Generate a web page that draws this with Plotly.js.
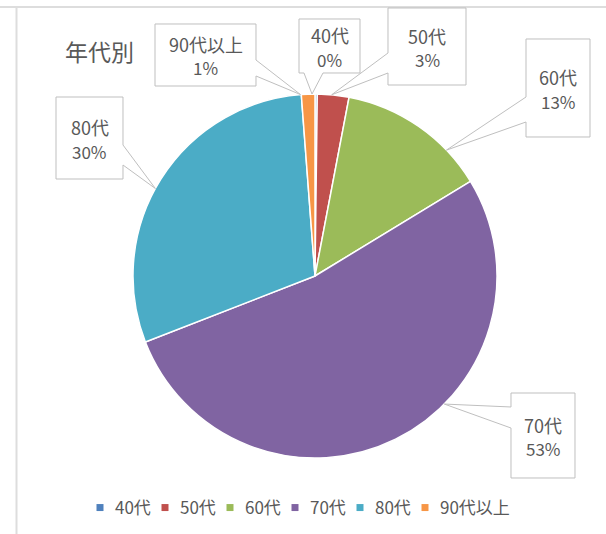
<!DOCTYPE html>
<html><head><meta charset="utf-8">
<script src="https://cdn.plot.ly/plotly-3.0.1.min.js"></script>
<style>html,body{margin:0;padding:0;background:#fff}</style>
</head><body><div id="chart" style="width:606px;height:534px"></div>
<script>
const categories = ["40代", "50代", "60代", "70代", "80代", "90代以上"];
const values = [0.2, 2.8, 13.3, 52.8, 29.7, 1.2];
const percentLabels = ["0%", "3%", "13%", "53%", "30%", "1%"];
const colors = ["#4F81BD", "#C0504D", "#9BBB59", "#8064A2", "#4BACC6", "#F79646"];

const W = 606, H = 534;
const cx = 315, cy = 276, R = 182;
const FONT = 'Noto Sans CJK JP, sans-serif';
// callout boxes (px): [x0,y0,x1,y1], side of pointer, pointer base, tip angle offset (deg)
const callouts = [
  {box: [299, 19, 360, 73], side: 'bottom', base: [304, 323], off: -1.3},
  {box: [388, 8, 466, 85], side: 'left', base: [53, 73], off: -0.5},
  {box: [526, 39, 590, 137], side: 'left', base: [97, 122], off: 11.5},
  {box: [511, 393, 575, 478], side: 'left', base: [407, 428], off: -19},
  {box: [56, 97, 123, 179], side: 'right', base: [145, 165], off: -3.5},
  {box: [155, 24, 256, 86], side: 'right', base: [60, 76], off: -2.4}
];

const X = x => x / W, Y = y => 1 - y / H;
const P = (x, y) => X(x).toFixed(5) + ',' + Y(y).toFixed(5);

const total = values.reduce((a, b) => a + b, 0);
let cum = 0;
const annotations = [];
const shapes = [
  {type: 'line', xref: 'paper', yref: 'paper', x0: 0, x1: 1, y0: Y(7), y1: Y(7), line: {color: '#DDDDDD', width: 2}},
  {type: 'line', xref: 'paper', yref: 'paper', x0: X(16.5), x1: X(16.5), y0: 0, y1: Y(7), line: {color: '#DDDDDD', width: 2}}
];
values.forEach((v, i) => {
  const c = callouts[i];
  const mid = (cum + v / 2) / total * 360 + c.off;
  cum += v;
  const a = mid * Math.PI / 180;
  const tx = cx + R * Math.sin(a), ty = cy - R * Math.cos(a);
  const [x0, y0, x1, y1] = c.box;
  let pts;
  if (c.side === 'left') {
    pts = [[x0, y0], [x1, y0], [x1, y1], [x0, y1], [x0, c.base[1]], [tx, ty], [x0, c.base[0]]];
  } else if (c.side === 'right') {
    pts = [[x0, y0], [x1, y0], [x1, c.base[0]], [tx, ty], [x1, c.base[1]], [x1, y1], [x0, y1]];
  } else {
    pts = [[x0, y0], [x1, y0], [x1, y1], [c.base[1], y1], [tx, ty], [c.base[0], y1], [x0, y1]];
  }
  const path = 'M' + pts.map(p => P(p[0], p[1])).join('L') + 'Z';
  shapes.push({type: 'path', xref: 'paper', yref: 'paper', path: path,
    fillcolor: '#FFFFFF', line: {color: '#BFBFBF', width: 1}});
  const mx = (x0 + x1) / 2, my = (y0 + y1) / 2;
  annotations.push({
    xref: 'paper', yref: 'paper', x: X(mx), y: Y(my - 11),
    xanchor: 'center', yanchor: 'middle', showarrow: false,
    text: categories[i],
    font: {family: FONT, size: 18, color: '#595959'}
  });
  annotations.push({
    xref: 'paper', yref: 'paper', x: X(mx), y: Y(my + 13),
    xanchor: 'center', yanchor: 'middle', showarrow: false,
    text: percentLabels[i],
    font: {family: FONT, size: 17, color: '#595959'}
  });
});

annotations.push({
  xref: 'paper', yref: 'paper', x: X(99), y: Y(51),
  xanchor: 'center', yanchor: 'middle', showarrow: false,
  text: '年代別',
  font: {family: FONT, size: 23, color: '#595959'}
});

const data = [{
  type: 'pie',
  labels: categories,
  values: values,
  sort: false,
  direction: 'clockwise',
  rotation: 0,
  textinfo: 'none',
  hoverinfo: 'label+percent',
  marker: {colors: colors, line: {color: '#FFFFFF', width: 1.5}},
  domain: {x: [X(cx - R), X(cx + R)], y: [Y(cy + R), Y(cy - R)]}
}];

const layout = {
  width: W, height: H,
  margin: {l: 0, r: 0, t: 0, b: 0},
  paper_bgcolor: '#FFFFFF',
  showlegend: true,
  legend: {
    orientation: 'h', x: X(75), xanchor: 'left', y: Y(508), yanchor: 'middle',
    font: {family: FONT, size: 17, color: '#595959'},
    itemwidth: 30, entrywidth: 20, tracegroupgap: 0
  },
  annotations: annotations,
  shapes: shapes
};

Plotly.newPlot('chart', data, layout, {displayModeBar: false, staticPlot: true}).then(() => {
  document.querySelectorAll('.legend .legendpoints path').forEach(p => {
    p.setAttribute('d', 'M8.5,3.5H1.5V-3.5H8.5Z');
    p.style.strokeWidth = '0';
  });
  document.querySelectorAll('.legend [clip-path]').forEach(e => e.removeAttribute('clip-path'));
});
</script>
</body></html>
